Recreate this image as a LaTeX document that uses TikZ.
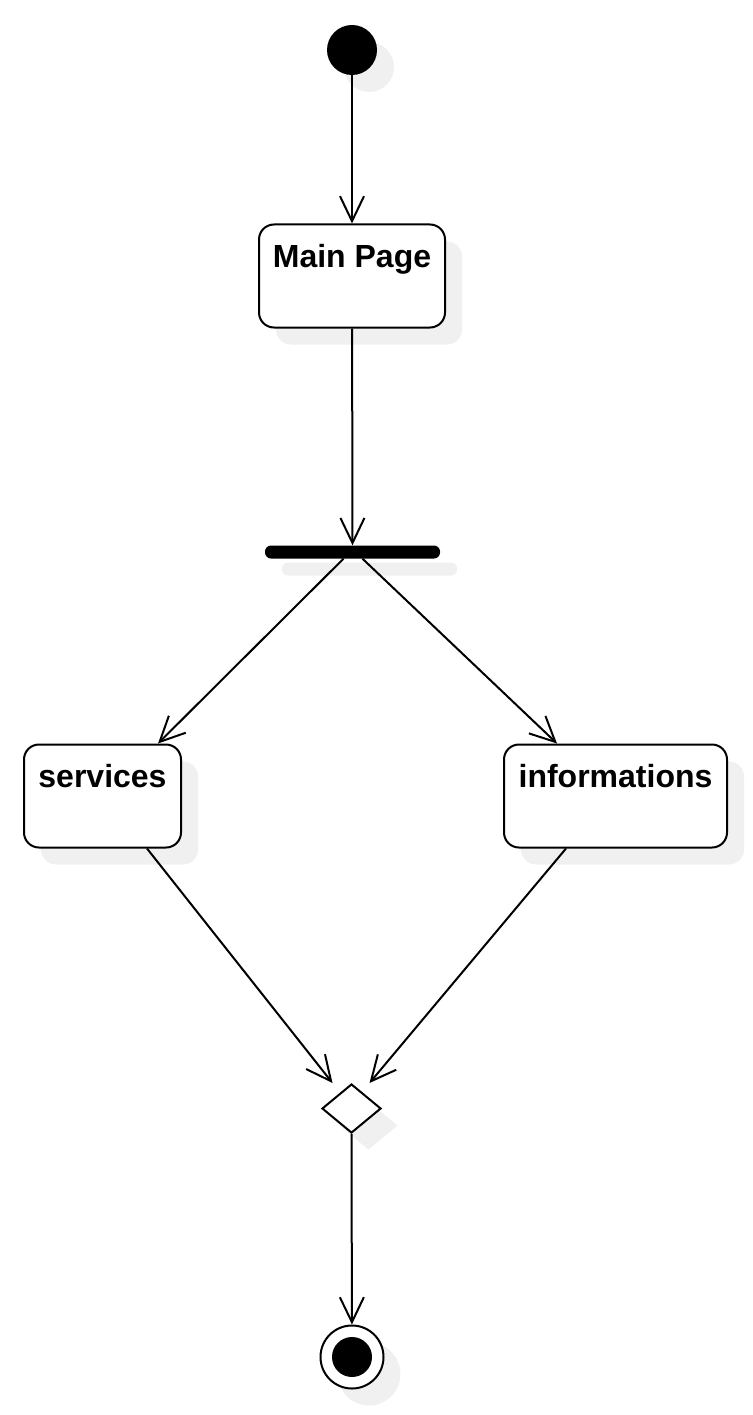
\documentclass[tikz,border=0pt]{standalone}
\usepackage{fontspec}
\setmainfont{Liberation Sans}
\usetikzlibrary{arrows.meta,shapes.geometric,shadows}
\tikzset{
    act-shadow/.style = {drop shadow={shadow xshift=17pt, shadow yshift=-17pt, fill=black!6, opacity=1}},
    activity/.style = {draw, fill=white, line width=2pt, rectangle, rounded corners=15pt, inner xsep=0pt, inner ysep=0pt, text height=43pt, text depth=60pt, font=\fontsize{32}{38}\selectfont\bfseries, act-shadow},
    initial/.style = {circle, fill=black, minimum size=50pt, inner sep=0pt, act-shadow},
    final/.style = {circle, draw, fill=white, line width=2pt, minimum size=63pt, inner sep=0pt, act-shadow, path picture={\fill[black] (path picture bounding box.center) circle (20pt);}},
    fork-bar/.style = {fill=black, rectangle, rounded corners=6pt, minimum width=175pt, minimum height=13pt, inner sep=0pt, act-shadow},
    decision/.style = {diamond, draw, fill=white, line width=2pt, minimum width=59pt, minimum height=49pt, inner sep=0pt, act-shadow},
    flow/.style = {-{Straight Barb[length=25pt,width=24pt]}, line width=2pt},
}

\begin{document}
\begin{tikzpicture}[x=1pt, y=-1pt]
\useasboundingbox (0,0) rectangle (752,1415);

\node[initial] (start) at (352,50) {};
\node[activity, minimum width=186pt] (main) at (352,276) {Main Page};
\node[fork-bar] (fork) at (352.5,552) {};
\node[activity, minimum width=157pt] (services) at (102.5,796) {services};
\node[activity, minimum width=223pt] (informations) at (615.5,796) {informations};
\node[decision] (merge) at (351.5,1108.5) {};
\node[final] (end) at (352,1357) {};

\draw[flow] (start) -- (main);
\draw[flow] (main) -- (fork);
\draw[flow] ([xshift=-9pt]fork.south) -- ([xshift=-24pt]services.north east);
\draw[flow] ([xshift=10pt]fork.south) -- ([xshift=54pt]informations.north west);
\draw[flow] ([xshift=-35pt]services.south east) -- ([xshift=-19pt]merge.north);
\draw[flow] ([xshift=63pt]informations.south west) -- ([xshift=18pt]merge.north);
\draw[flow] (merge.south) -- (end);
\end{tikzpicture}
\end{document}
